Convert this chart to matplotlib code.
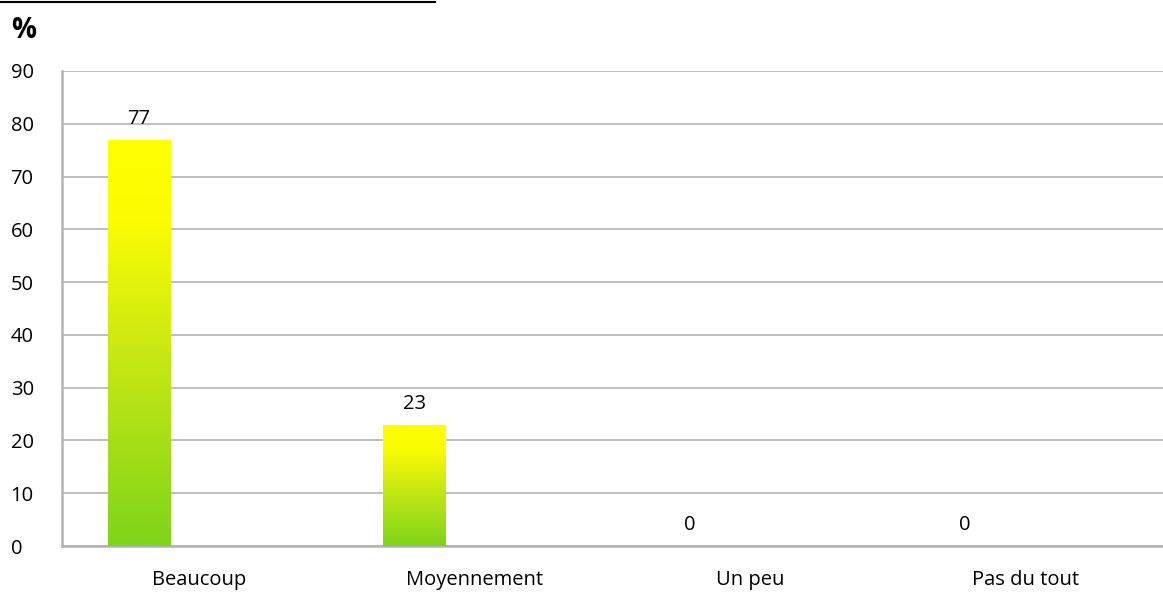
import numpy as np
import matplotlib.pyplot as plt
from matplotlib.colors import LinearSegmentedColormap
from matplotlib.lines import Line2D

# Survey answers (percent)
categories = ['Beaucoup', 'Moyennement', 'Un peu', 'Pas du tout']
values = [77, 23, 0, 0]
y_ticks = [0, 10, 20, 30, 40, 50, 60, 70, 80, 90]

plt.rcParams['font.family'] = ['Open Sans', 'DejaVu Sans']

fig = plt.figure(figsize=(11.63, 5.97), dpi=100)
ax = fig.add_axes([62 / 1163, 1 - 546 / 597, 1 - 62 / 1163, 475 / 597])

# green at the base fading up into yellow
grad = LinearSegmentedColormap.from_list(
    'greenyellow', [(0.0, '#7ed41a'), (0.5, '#cce912'), (0.8, '#fbfc02'), (1.0, '#ffff00')])

x = np.arange(len(categories))
offset = -0.22
width = 0.228
bars = ax.bar(x + offset, values, width=width, color='none', edgecolor='none', zorder=3)

for rect, v in zip(bars, values):
    if v <= 0:
        continue
    x0 = rect.get_x()
    img = ax.imshow(np.linspace(0, 1, 256).reshape(-1, 1), cmap=grad, origin='lower',
                    extent=[x0, x0 + rect.get_width(), 0, v], aspect='auto', zorder=3)
    img.set_clip_path(rect)

for xi, v in zip(x, values):
    ax.text(xi + offset, v + 2.0, str(v), ha='center', va='bottom', fontsize=14.5, color='#000000', zorder=4)

ax.set_xlim(-0.5, len(categories) - 0.5)
ax.set_ylim(0, 90)
ax.set_yticks(y_ticks)
ax.set_xticks(x)
ax.set_xticklabels(categories)
ax.tick_params(axis='both', length=0, labelsize=14.5, colors='#000000')
ax.tick_params(axis='x', pad=17)
ax.tick_params(axis='y', pad=37)
for lab in ax.get_yticklabels():
    lab.set_horizontalalignment('left')

ax.grid(axis='y', color='#bfbfbf', linewidth=1.4, zorder=0)
ax.set_axisbelow(True)
for side in ['top', 'right']:
    ax.spines[side].set_visible(False)
for side in ['left', 'bottom']:
    ax.spines[side].set_color('#b3b3b3')
    ax.spines[side].set_linewidth(1.8)

# unit label and the rule above it
fig.text(11 / 1163, 1 - 30 / 597, '%', fontsize=20, fontweight='bold', va='center', ha='left')
fig.add_artist(Line2D([0, 435 / 1163], [1 - 2 / 597, 1 - 2 / 597], color='black', linewidth=1.5))

fig.savefig('out.png', dpi=100)
